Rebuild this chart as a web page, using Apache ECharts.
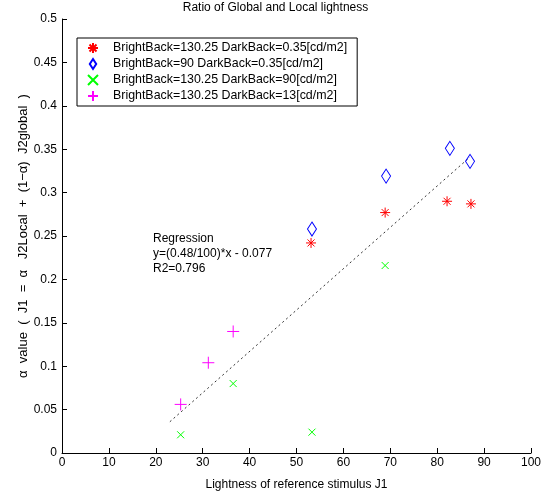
<!DOCTYPE html>
<html>
<head>
<meta charset="utf-8">
<script src="https://cdn.jsdelivr.net/npm/echarts@6/dist/echarts.min.js"></script>
<style>html,body{margin:0;padding:0;background:#fff}#c{width:551px;height:501px}</style>
</head>
<body>
<div id="c"></div>
<script>
// Data
const seriesNames = [
  'BrightBack=130.25 DarkBack=0.35[cd/m2]',
  'BrightBack=90 DarkBack=0.35[cd/m2]',
  'BrightBack=130.25 DarkBack=90[cd/m2]',
  'BrightBack=130.25 DarkBack=13[cd/m2]'
];
const redStar = [[53.1, 0.242], [68.9, 0.277], [82.1, 0.290], [87.2, 0.287]];
const blueDiamond = [[53.3, 0.258], [69.1, 0.319], [82.7, 0.351], [87.0, 0.336]];
const greenX = [[25.3, 0.021], [36.5, 0.080], [53.3, 0.024], [68.9, 0.216]];
const magentaPlus = [[25.3, 0.056], [31.2, 0.104], [36.5, 0.140]];
const regressionLine = [[23.0, 0.036], [87.0, 0.341]];
const regressionText = ['Regression', 'y=(0.48/100)*x - 0.077', 'R2=0.796'];
const xTicks = {min: 0, max: 100, interval: 10};
const yTicks = {min: 0, max: 0.5, interval: 0.05};

const FONT = 'Liberation Sans';
const chart = echarts.init(document.getElementById('c'), null, {renderer: 'canvas'});

const STAR = 'path://M5,0L5,10M0,5L10,5M1.5,1.5L8.5,8.5M8.5,1.5L1.5,8.5';
const XS = 'path://M0,0L10,10M10,0L0,10';
const PLUS = 'path://M5,0L5,10M0,5L10,5';
const DIAM = 'path://M4.5,0L9,7L4.5,14L0,7Z';

function mk(name, data, symbol, size, color, fill) {
  return {
    name: name, type: 'scatter', data: data, symbol: symbol, symbolSize: size,
    itemStyle: {color: fill, borderColor: color, borderWidth: 1, opacity: 1},
    emphasis: {disabled: true}, z: 3
  };
}

chart.setOption({
  animation: false,
  backgroundColor: '#fff',
  title: {
    text: 'Ratio of Global and Local lightness',
    left: 'center', top: -3,
    textStyle: {fontFamily: FONT, fontSize: 12, fontWeight: 'normal', color: '#000'}
  },
  grid: {left: 62, right: 20, top: 19, bottom: 48},
  legend: {
    orient: 'vertical', left: 77, top: 38,
    data: [
      {name: seriesNames[0], icon: STAR},
      {name: seriesNames[1], icon: DIAM},
      {name: seriesNames[2], icon: XS},
      {name: seriesNames[3], icon: PLUS}
    ],
    backgroundColor: '#fff', borderColor: '#000', borderWidth: 1,
    padding: [4, 10, 4, 10], itemGap: 4, itemWidth: 30, itemHeight: 10,
    textStyle: {fontFamily: FONT, fontSize: 12.4, color: '#000'},
    selectedMode: false
  },
  xAxis: {
    type: 'value', min: xTicks.min, max: xTicks.max, interval: xTicks.interval,
    name: 'Lightness of reference stimulus J1', nameLocation: 'middle', nameGap: 26,
    nameMoveOverlap: false,
    nameTextStyle: {fontFamily: FONT, fontSize: 12, color: '#000'},
    axisLine: {lineStyle: {color: '#000', width: 1}},
    axisTick: {inside: true, length: 5, lineStyle: {color: '#000'}},
    axisLabel: {fontFamily: FONT, fontSize: 12, color: '#000', margin: 4},
    splitLine: {show: false}
  },
  yAxis: {
    type: 'value', min: yTicks.min, max: yTicks.max, interval: yTicks.interval,
    name: 'α  value  (  J1  =  α   J2Local  +  (1−α)  J2global  )', nameLocation: 'middle', nameGap: 32,
    nameMoveOverlap: false,
    nameTextStyle: {fontFamily: FONT, fontSize: 13, color: '#000'},
    axisLine: {show: true, lineStyle: {color: '#000', width: 1}},
    axisTick: {show: true, inside: true, length: 5, lineStyle: {color: '#000'}},
    axisLabel: {fontFamily: FONT, fontSize: 12, color: '#000', margin: 5},
    splitLine: {show: false}
  },
  graphic: [{
    type: 'text', left: 153, top: 231, z: 10,
    style: {text: regressionText.join('\n'), font: '12px ' + FONT, fill: '#000', lineHeight: 15}
  }],
  series: [
    mk(seriesNames[0], redStar, STAR, 10, '#ff0000', '#ff0000'),
    mk(seriesNames[1], blueDiamond, DIAM, [9, 14], '#0000ff', 'rgba(0,0,0,0)'),
    mk(seriesNames[2], greenX, XS, 7, '#00ff00', '#00ff00'),
    mk(seriesNames[3], magentaPlus, PLUS, 12, '#ff00ff', '#ff00ff'),
    {
      name: 'regression', type: 'line', data: regressionLine, symbol: 'none',
      lineStyle: {color: '#333', width: 1, type: [2, 3]}, z: 2, silent: true
    }
  ]
});
</script>
</body>
</html>
